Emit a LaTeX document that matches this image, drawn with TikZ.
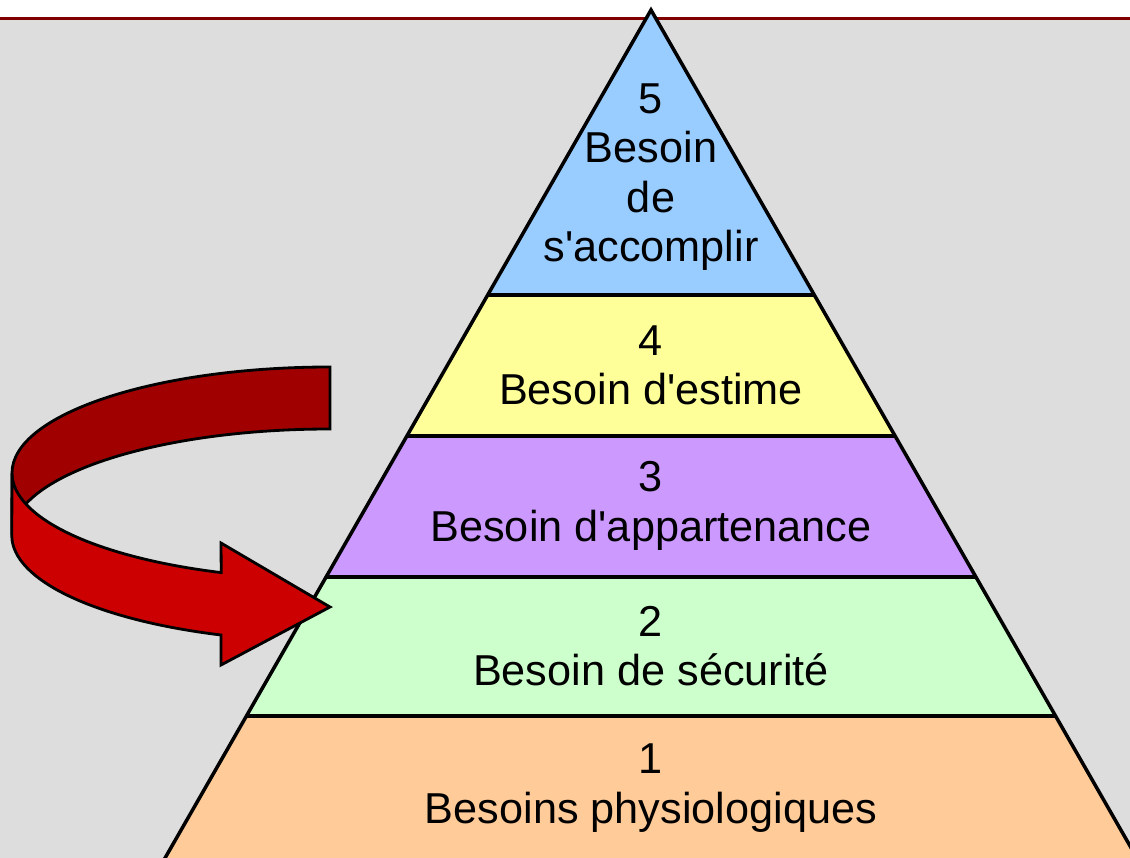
\documentclass[tikz,border=0pt]{standalone}
\usepackage{fontspec}
\setmainfont{Liberation Sans}
\definecolor{bggray}{HTML}{DDDDDD}
\definecolor{rule}{HTML}{800000}
\definecolor{lvlfive}{HTML}{99CCFF}
\definecolor{lvlfour}{HTML}{FFFF99}
\definecolor{lvlthree}{HTML}{CC99FF}
\definecolor{lvltwo}{HTML}{CCFFCC}
\definecolor{lvlone}{HTML}{FFCC99}
\definecolor{arrowback}{HTML}{A00000}
\definecolor{arrowfront}{HTML}{CC0000}
\tikzset{
  edge/.style={black, line width=1pt},
  lbl/.style={align=center, font=\fontsize{12.3}{14}\selectfont},
  band/.style={draw=black, line width=0.8pt, line join=miter}
}

\begin{document}
\begin{tikzpicture}[x=0.01cm,y=-0.01cm]
    \useasboundingbox (0,0) rectangle (1130,858);
    \clip (0,0) rectangle (1130,858);
    \fill[white] (0,0) rectangle (1130,18);
    \fill[bggray] (0,18) rectangle (1130,858);
    \draw[rule, line width=0.85pt] (0,18.5) -- (1130,18.5);

    \coordinate (apex) at (651,10);
    \coordinate (botleft) at (141,900);
    \coordinate (botright) at (1161,900);

    % tiers
    \begin{scope}
        \clip (apex) -- (botleft) -- (botright) -- cycle;
        \fill[lvlfive] (0,0) rectangle (1130,295);
        \fill[lvlfour] (0,295) rectangle (1130,436);
        \fill[lvlthree] (0,436) rectangle (1130,577);
        \fill[lvltwo] (0,577) rectangle (1130,716);
        \fill[lvlone] (0,716) rectangle (1130,900);
        \foreach \y in {295,436,577,716}
            \draw[edge] (0,\y) -- (1130,\y);
    \end{scope}
    \draw[edge, line join=miter] (apex) -- (botleft) -- (botright) -- cycle;

    \node[lbl] (five) at (651,177) {5\\Besoin\\de\\s\textquotesingle accomplir};
    \node[lbl] (four) at (651,365) {4\\Besoin d\textquotesingle estime};
    \node[lbl] (three) at (651,506) {3\\Besoin d\textquotesingle appartenance};
    \node[lbl] (two) at (651,646) {2\\Besoin de sécurité};
    \node[lbl] (one) at (651,788) {1\\Besoins physiologiques};

    % curved arrow
    \filldraw[band, fill=arrowback] (330,367) arc[start angle=270, end angle=180, x radius=318, y radius=106]
        -- (12,535) arc[start angle=180, end angle=270, x radius=318, y radius=106] -- cycle;
    \filldraw[band, fill=arrowfront] (12,473) arc[start angle=180, end angle=110, x radius=318, y radius=106]
        -- (221,543) -- (330,607) -- (221,665) -- (221,635)
        arc[start angle=110, end angle=180, x radius=318, y radius=106] -- cycle;
\end{tikzpicture}
\end{document}
